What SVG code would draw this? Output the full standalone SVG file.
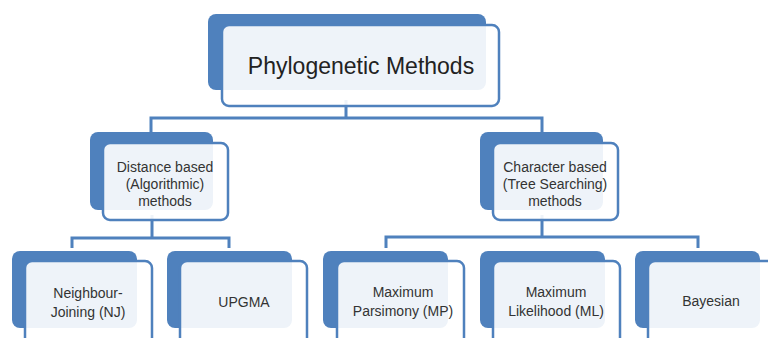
<svg xmlns="http://www.w3.org/2000/svg" width="768" height="338" viewBox="0 0 768 338">
<style>
.back{fill:#4f81bd}
.front{fill:#ffffff;fill-opacity:0.9;stroke:#4f81bd;stroke-width:2.5}
.conn{fill:none;stroke:#4f81bd;stroke-width:3}
.t{font-family:"Liberation Sans",Arial,sans-serif;fill:#333;text-anchor:middle;font-size:14px}
.title{font-family:"Liberation Sans",Arial,sans-serif;fill:#222;text-anchor:middle;font-size:23px}
</style>
<rect width="768" height="338" fill="#ffffff"/>
<g id="connectors">
<path class="conn" d="M346,100 V118 M151,133 V118 H542 V133"/>
<path class="conn" d="M152,215 V238 M72,248 V238 H229 V248"/>
<path class="conn" d="M542,215 V237 M386,248 V237 H698 V248"/>
</g>
<g id="n-root">
<rect class="back" x="208" y="14" width="278" height="76" rx="8"/>
<rect class="front" x="222" y="25" width="277" height="81" rx="7"/>
<text class="title" x="361" y="74">Phylogenetic Methods</text>
</g>
<g id="n-distance">
<rect class="back" x="90" y="132" width="123" height="78" rx="8"/>
<rect class="front" x="103" y="143" width="125" height="77" rx="7"/>
<text class="t" x="165" y="172">Distance based</text>
<text class="t" x="165" y="189">(Algorithmic)</text>
<text class="t" x="165" y="206">methods</text>
</g>
<g id="n-character">
<rect class="back" x="480" y="132" width="123" height="78" rx="8"/>
<rect class="front" x="493" y="143" width="125" height="77" rx="7"/>
<text class="t" x="555" y="172">Character based</text>
<text class="t" x="555" y="189">(Tree Searching)</text>
<text class="t" x="555" y="206">methods</text>
</g>
<g id="n-nj">
<rect class="back" x="12" y="251" width="125" height="77" rx="8"/>
<rect class="front" x="25" y="261" width="127" height="90" rx="7"/>
<text class="t" x="88" y="298">Neighbour-</text>
<text class="t" x="88" y="317">Joining (NJ)</text>
</g>
<g id="n-upgma">
<rect class="back" x="167" y="251" width="125" height="77" rx="8"/>
<rect class="front" x="180" y="261" width="127" height="90" rx="7"/>
<text class="t" x="244" y="307">UPGMA</text>
</g>
<g id="n-mp">
<rect class="back" x="323" y="251" width="125" height="77" rx="8"/>
<rect class="front" x="337" y="261" width="127" height="90" rx="7"/>
<text class="t" x="403" y="297">Maximum</text>
<text class="t" x="403" y="316">Parsimony (MP)</text>
</g>
<g id="n-ml">
<rect class="back" x="480" y="251" width="125" height="77" rx="8"/>
<rect class="front" x="493" y="261" width="127" height="90" rx="7"/>
<text class="t" x="556" y="297">Maximum</text>
<text class="t" x="556" y="316">Likelihood (ML)</text>
</g>
<g id="n-bayesian">
<rect class="back" x="635" y="251" width="125" height="77" rx="8"/>
<rect class="front" x="648" y="261" width="127" height="90" rx="7"/>
<text class="t" x="711" y="306">Bayesian</text>
</g>
</svg>
